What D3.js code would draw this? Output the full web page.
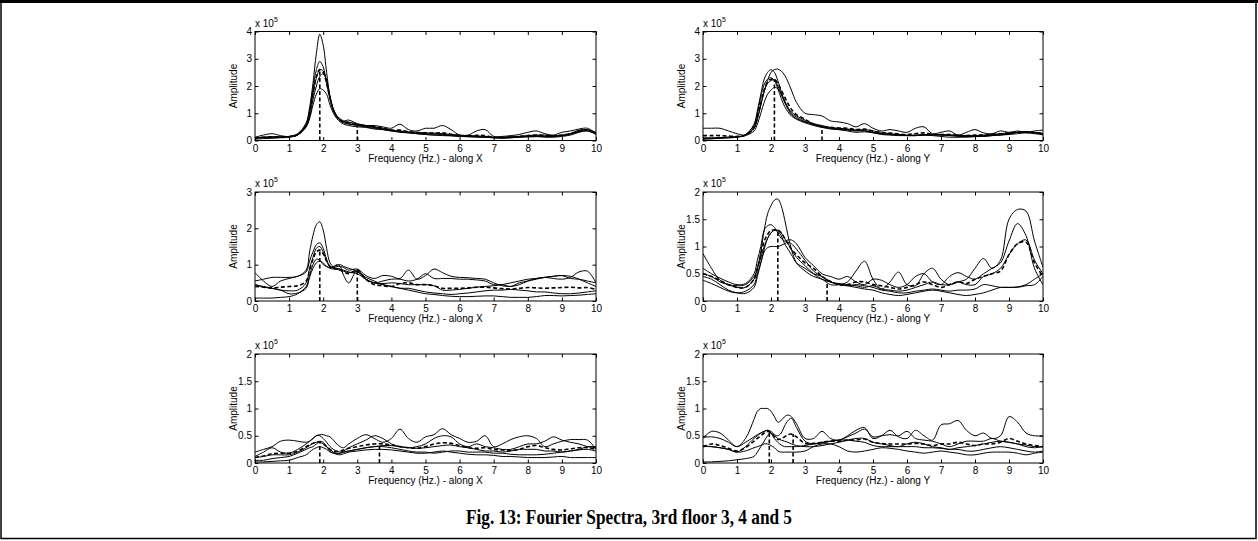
<!DOCTYPE html>
<html>
<head>
<meta charset="utf-8">
<script src="https://cdn.jsdelivr.net/npm/d3@7"></script>
<style>
  body { margin: 0; background: #fff; }
  svg { display: block; }
  .tick text { font-family: "Liberation Sans", Arial, sans-serif; font-size: 10px; fill: #000; }
  .tick line { stroke: #000; }
</style>
</head>
<body>
<svg width="1258" height="541"></svg>
<script>
// frequency grid (Hz) shared by all spectra
var freqs = [0,0.25,0.5,0.75,1,1.25,1.5,
  1.6,1.7,1.8,1.9,2,2.1,2.2,2.3,2.4,2.5,2.6,
  2.75,3,3.25,3.5,3.75,4,
  4.25,4.5,4.75,5,5.25,5.5,5.75,6,6.25,6.5,6.75,7,
  7.25,7.5,7.75,8,8.25,8.5,8.75,9,9.25,9.5,9.75,10];

var xTicks = [0,1,2,3,4,5,6,7,8,9,10];

// amplitudes in units of 1e5
// --- top row, along X
var p1a = [0.10,0.12,0.14,0.13,0.15,0.25,0.65,
  1.2,2.1,3.2,3.9,3.5,2.5,1.6,1.1,0.85,0.75,0.7,
  0.68,0.6,0.55,0.55,0.5,0.45,
  0.6,0.4,0.35,0.45,0.45,0.55,0.4,0.2,0.2,0.35,0.4,0.15,
  0.15,0.18,0.22,0.3,0.35,0.25,0.2,0.3,0.35,0.42,0.45,0.25];
var p1b = [0.08,0.1,0.12,0.12,0.14,0.22,0.6,
  1.1,1.9,2.6,2.9,2.7,2.1,1.5,1.1,0.9,0.8,0.72,
  0.75,0.62,0.55,0.5,0.45,0.38,
  0.35,0.32,0.3,0.28,0.27,0.25,0.22,0.2,0.18,0.17,0.15,0.12,
  0.1,0.1,0.12,0.13,0.14,0.15,0.15,0.18,0.25,0.38,0.4,0.3];
var p1c = [0.12,0.2,0.25,0.18,0.14,0.2,0.55,
  1.0,1.7,2.3,2.6,2.55,2.2,1.6,1.15,0.9,0.75,0.68,
  0.62,0.58,0.55,0.48,0.42,0.38,
  0.33,0.3,0.28,0.25,0.24,0.22,0.2,0.18,0.16,0.15,0.12,0.1,
  0.1,0.12,0.15,0.18,0.2,0.2,0.18,0.2,0.25,0.35,0.38,0.28];
var p1d = [0.05,0.07,0.08,0.1,0.12,0.2,0.5,
  0.85,1.5,2.0,2.35,2.45,2.2,1.6,1.15,0.9,0.72,0.65,
  0.6,0.55,0.5,0.45,0.4,0.35,
  0.32,0.28,0.25,0.22,0.2,0.18,0.17,0.15,0.14,0.12,0.12,0.1,
  0.08,0.1,0.12,0.15,0.15,0.12,0.12,0.15,0.2,0.3,0.35,0.25];
var p1e = [0.1,0.12,0.12,0.13,0.15,0.22,0.5,
  0.8,1.3,1.7,1.9,1.85,1.7,1.3,1.0,0.8,0.68,0.6,
  0.55,0.5,0.48,0.42,0.4,0.35,
  0.3,0.28,0.25,0.22,0.2,0.2,0.18,0.15,0.14,0.14,0.12,0.12,
  0.12,0.14,0.15,0.16,0.18,0.16,0.15,0.18,0.22,0.32,0.35,0.22];
var p1Mean = [0.09,0.12,0.14,0.13,0.14,0.22,0.56,
  1.0,1.7,2.35,2.6,2.5,2.1,1.55,1.1,0.87,0.74,0.67,
  0.65,0.57,0.53,0.5,0.45,0.38,
  0.38,0.32,0.29,0.28,0.27,0.28,0.23,0.18,0.16,0.19,0.18,0.12,
  0.11,0.13,0.15,0.18,0.2,0.18,0.16,0.2,0.25,0.35,0.39,0.26];
var p1Peaks = [[1.9, 2.6], [3.0, 0.57]];

// --- top row, along Y
var p2a = [0.45,0.45,0.45,0.35,0.25,0.2,0.45,
  0.8,1.3,1.8,2.2,2.5,2.6,2.62,2.55,2.4,2.15,1.85,
  1.4,1.0,0.95,0.9,0.72,0.68,
  0.62,0.5,0.62,0.45,0.35,0.4,0.35,0.3,0.45,0.5,0.25,0.3,
  0.35,0.2,0.3,0.4,0.28,0.25,0.35,0.3,0.35,0.3,0.35,0.38];
var p2b = [0.05,0.06,0.08,0.1,0.12,0.2,0.6,
  1.1,1.7,2.25,2.5,2.6,2.5,2.2,1.8,1.45,1.2,1.05,
  0.9,0.75,0.62,0.55,0.48,0.45,
  0.42,0.38,0.35,0.3,0.25,0.22,0.2,0.18,0.18,0.2,0.2,0.22,
  0.2,0.18,0.15,0.15,0.15,0.18,0.2,0.25,0.3,0.32,0.3,0.25];
var p2c = [0.08,0.08,0.1,0.12,0.14,0.2,0.45,
  0.8,1.3,1.8,2.1,2.2,2.22,2.0,1.7,1.4,1.15,0.95,
  0.8,0.68,0.58,0.5,0.45,0.42,
  0.4,0.38,0.4,0.35,0.3,0.25,0.22,0.2,0.2,0.22,0.2,0.2,
  0.2,0.2,0.18,0.18,0.2,0.22,0.25,0.28,0.3,0.32,0.28,0.2];
var p2d = [0.1,0.1,0.1,0.12,0.14,0.18,0.35,
  0.6,1.0,1.4,1.7,1.85,1.95,1.9,1.7,1.45,1.2,1.0,
  0.85,0.7,0.6,0.52,0.45,0.4,
  0.35,0.3,0.32,0.28,0.22,0.2,0.18,0.18,0.18,0.2,0.18,0.15,
  0.12,0.12,0.12,0.14,0.15,0.18,0.2,0.22,0.25,0.28,0.25,0.22];
var p2e = [0.06,0.07,0.09,0.1,0.12,0.22,0.55,
  1.0,1.6,2.05,2.25,2.3,2.2,1.9,1.55,1.25,1.05,0.9,
  0.78,0.65,0.55,0.48,0.42,0.4,
  0.38,0.35,0.36,0.3,0.25,0.22,0.2,0.18,0.18,0.2,0.22,0.2,
  0.18,0.15,0.15,0.16,0.18,0.2,0.22,0.25,0.3,0.3,0.28,0.25];
var p2Mean = [0.18,0.18,0.18,0.16,0.15,0.2,0.48,
  0.86,1.38,1.86,2.15,2.25,2.25,2.1,1.85,1.6,1.35,1.15,
  0.95,0.78,0.6,0.5,0.48,0.46,
  0.45,0.4,0.42,0.35,0.28,0.27,0.24,0.22,0.25,0.28,0.23,0.22,
  0.22,0.18,0.18,0.2,0.2,0.22,0.25,0.27,0.3,0.3,0.29,0.27];
var p2Peaks = [[2.1, 2.25], [3.5, 0.5]];

// --- middle row, along X
var p3a = [0.55,0.6,0.65,0.65,0.65,0.68,0.85,
  1.35,1.8,2.1,2.18,1.95,1.45,1.05,0.95,1.0,0.95,0.7,
  0.5,0.85,0.6,0.5,0.55,0.6,
  0.6,0.55,0.6,0.75,0.62,0.62,0.62,0.6,0.6,0.58,0.55,0.45,
  0.45,0.4,0.5,0.55,0.6,0.65,0.68,0.7,0.62,0.6,0.55,0.5];
var p3b = [0.78,0.55,0.4,0.55,0.62,0.68,0.8,
  1.1,1.35,1.55,1.6,1.45,1.15,0.95,0.92,0.95,0.95,0.92,
  0.85,0.88,0.7,0.62,0.7,0.68,
  0.62,0.85,0.6,0.7,0.88,0.78,0.68,0.65,0.64,0.62,0.6,0.5,
  0.42,0.4,0.45,0.55,0.62,0.65,0.62,0.6,0.65,0.8,0.82,0.5];
var p3c = [0.45,0.4,0.35,0.3,0.28,0.3,0.5,
  0.9,1.2,1.45,1.5,1.35,1.1,0.95,0.95,0.98,1.0,0.95,
  0.9,0.82,0.6,0.5,0.48,0.5,
  0.48,0.45,0.45,0.45,0.42,0.3,0.3,0.32,0.35,0.38,0.4,0.42,
  0.45,0.5,0.55,0.6,0.62,0.65,0.68,0.7,0.68,0.6,0.5,0.4];
var p3d = [0.08,0.08,0.08,0.1,0.12,0.2,0.4,
  0.7,1.0,1.15,1.12,1.0,0.95,0.92,0.92,0.9,0.88,0.85,
  0.8,0.75,0.6,0.5,0.45,0.4,
  0.35,0.3,0.25,0.2,0.18,0.15,0.13,0.12,0.12,0.13,0.14,0.14,
  0.12,0.1,0.1,0.1,0.12,0.15,0.15,0.14,0.15,0.16,0.18,0.2];
var p3e = [0.45,0.38,0.35,0.3,0.2,0.22,0.35,
  0.65,0.9,1.05,1.1,1.05,0.95,0.9,0.88,0.87,0.85,0.82,
  0.78,0.8,0.65,0.55,0.45,0.4,
  0.35,0.35,0.3,0.25,0.22,0.2,0.18,0.2,0.22,0.25,0.28,0.3,
  0.3,0.32,0.3,0.28,0.25,0.25,0.22,0.2,0.2,0.22,0.25,0.28];
var p3Mean = [0.4,0.38,0.36,0.38,0.4,0.42,0.55,
  0.85,1.15,1.35,1.4,1.3,1.1,0.95,0.9,0.88,0.85,0.8,
  0.75,0.85,0.6,0.45,0.42,0.4,
  0.48,0.5,0.45,0.45,0.42,0.35,0.35,0.35,0.36,0.38,0.38,0.36,
  0.34,0.33,0.35,0.37,0.36,0.35,0.36,0.37,0.38,0.36,0.37,0.32];
var p3Peaks = [[1.9, 1.4], [3.0, 0.85]];

// --- middle row, along Y
var p4a = [0.87,0.6,0.38,0.3,0.25,0.25,0.4,
  0.6,0.9,1.3,1.6,1.75,1.85,1.87,1.75,1.5,1.2,0.95,
  0.7,0.55,0.45,0.4,0.3,0.3,
  0.35,0.55,0.73,0.4,0.22,0.35,0.53,0.3,0.28,0.5,0.6,0.4,
  0.3,0.35,0.4,0.6,0.78,0.6,0.75,1.5,1.68,1.65,1.1,0.62];
var p4b = [0.6,0.5,0.42,0.35,0.3,0.32,0.5,
  0.75,1.0,1.3,1.38,1.4,1.35,1.25,1.15,1.1,1.12,1.12,
  1.05,0.8,0.65,0.5,0.45,0.4,
  0.45,0.35,0.3,0.4,0.38,0.3,0.25,0.3,0.45,0.5,0.35,0.3,
  0.45,0.52,0.45,0.4,0.5,0.6,0.7,1.1,1.42,1.2,0.6,0.3];
var p4c = [0.5,0.45,0.35,0.3,0.28,0.3,0.45,
  0.6,0.8,1.0,1.15,1.25,1.3,1.28,1.2,1.05,0.95,0.85,
  0.7,0.6,0.5,0.45,0.35,0.32,
  0.3,0.28,0.25,0.28,0.22,0.2,0.18,0.2,0.25,0.3,0.35,0.3,
  0.3,0.35,0.3,0.3,0.45,0.5,0.6,0.85,1.05,1.12,0.75,0.5];
var p4d = [0.38,0.32,0.25,0.18,0.15,0.18,0.3,
  0.5,0.7,0.9,0.98,1.0,1.0,1.0,1.02,1.05,1.08,1.05,
  0.95,0.75,0.55,0.45,0.35,0.3,
  0.28,0.25,0.22,0.2,0.15,0.12,0.1,0.12,0.15,0.18,0.2,0.18,
  0.15,0.12,0.1,0.12,0.15,0.2,0.25,0.25,0.25,0.28,0.3,0.45];
var p4e = [0.45,0.4,0.3,0.2,0.15,0.14,0.25,
  0.45,0.7,0.95,1.15,1.25,1.3,1.3,1.25,1.15,1.05,0.95,
  0.8,0.65,0.5,0.4,0.35,0.3,
  0.28,0.3,0.28,0.25,0.2,0.18,0.15,0.15,0.18,0.2,0.22,0.2,
  0.18,0.2,0.2,0.22,0.3,0.28,0.25,0.25,0.26,0.3,0.4,0.5];
var p4Mean = [0.5,0.45,0.38,0.3,0.25,0.25,0.4,
  0.6,0.85,1.1,1.22,1.3,1.3,1.3,1.25,1.15,1.05,0.95,
  0.85,0.7,0.6,0.45,0.36,0.3,
  0.3,0.35,0.35,0.3,0.28,0.25,0.22,0.25,0.3,0.35,0.3,0.25,
  0.3,0.35,0.32,0.4,0.45,0.5,0.55,0.85,1.05,1.08,0.7,0.45];
var p4Peaks = [[2.2, 1.3], [3.65, 0.4]];

// --- bottom row, along X
var p5a = [0.2,0.25,0.3,0.4,0.42,0.4,0.38,
  0.4,0.45,0.5,0.52,0.52,0.5,0.48,0.42,0.35,0.3,0.28,
  0.35,0.45,0.52,0.45,0.38,0.45,
  0.62,0.45,0.38,0.48,0.52,0.63,0.52,0.45,0.38,0.4,0.5,0.3,
  0.35,0.43,0.48,0.5,0.45,0.3,0.35,0.4,0.43,0.43,0.42,0.25];
var p5b = [0.12,0.2,0.28,0.2,0.18,0.25,0.35,
  0.4,0.45,0.5,0.5,0.45,0.38,0.3,0.25,0.22,0.2,0.22,
  0.28,0.35,0.42,0.5,0.45,0.35,
  0.3,0.28,0.3,0.35,0.45,0.5,0.48,0.35,0.3,0.35,0.3,0.28,
  0.25,0.25,0.3,0.35,0.35,0.4,0.48,0.42,0.38,0.35,0.3,0.28];
var p5c = [0.05,0.05,0.08,0.1,0.12,0.18,0.25,
  0.28,0.3,0.35,0.38,0.35,0.3,0.25,0.2,0.18,0.18,0.2,
  0.22,0.25,0.28,0.3,0.32,0.32,
  0.3,0.28,0.27,0.28,0.3,0.32,0.33,0.3,0.28,0.25,0.22,0.22,
  0.2,0.22,0.25,0.25,0.25,0.22,0.22,0.2,0.22,0.25,0.3,0.3];
var p5d = [0.02,0.02,0.03,0.04,0.05,0.1,0.15,
  0.2,0.25,0.28,0.3,0.28,0.25,0.2,0.18,0.16,0.15,0.17,
  0.2,0.22,0.24,0.25,0.25,0.24,
  0.22,0.2,0.18,0.18,0.2,0.22,0.2,0.18,0.16,0.15,0.15,0.14,
  0.12,0.12,0.11,0.1,0.1,0.1,0.11,0.12,0.1,0.1,0.1,0.1];
var p5e = [0.1,0.12,0.15,0.15,0.15,0.2,0.28,
  0.32,0.36,0.38,0.4,0.38,0.3,0.22,0.18,0.17,0.18,0.2,
  0.22,0.25,0.28,0.3,0.3,0.28,
  0.25,0.22,0.2,0.2,0.18,0.2,0.22,0.22,0.2,0.2,0.2,0.18,
  0.18,0.16,0.15,0.15,0.15,0.16,0.18,0.2,0.22,0.24,0.25,0.22];
var p5Mean = [0.1,0.13,0.17,0.18,0.18,0.22,0.3,
  0.33,0.36,0.38,0.38,0.35,0.3,0.25,0.22,0.21,0.22,0.24,
  0.27,0.3,0.33,0.35,0.35,0.33,
  0.3,0.28,0.27,0.3,0.35,0.37,0.36,0.32,0.28,0.27,0.28,0.25,
  0.24,0.23,0.25,0.3,0.32,0.28,0.25,0.24,0.26,0.28,0.28,0.25];
var p5Peaks = [[1.9, 0.38], [3.65, 0.35]];

// --- bottom row, along Y
var p6a = [0.45,0.58,0.55,0.42,0.3,0.45,0.8,
  0.95,1.0,1.0,1.0,0.95,0.85,0.75,0.78,0.85,0.88,0.85,
  0.72,0.45,0.45,0.58,0.45,0.42,
  0.5,0.6,0.65,0.45,0.5,0.6,0.48,0.45,0.6,0.5,0.42,0.7,
  0.72,0.78,0.6,0.5,0.55,0.45,0.5,0.85,0.75,0.55,0.5,0.5];
var p6b = [0.47,0.48,0.45,0.38,0.3,0.38,0.48,
  0.52,0.55,0.58,0.6,0.58,0.52,0.5,0.55,0.68,0.78,0.82,
  0.65,0.4,0.35,0.37,0.4,0.42,
  0.48,0.55,0.62,0.48,0.5,0.52,0.5,0.58,0.45,0.42,0.4,0.35,
  0.3,0.35,0.4,0.4,0.4,0.45,0.4,0.38,0.35,0.33,0.3,0.3];
var p6c = [0.32,0.3,0.28,0.25,0.2,0.3,0.45,
  0.5,0.55,0.58,0.6,0.55,0.45,0.38,0.33,0.3,0.3,0.3,
  0.3,0.32,0.35,0.38,0.4,0.42,
  0.42,0.4,0.38,0.32,0.3,0.3,0.3,0.3,0.3,0.28,0.28,0.27,
  0.25,0.25,0.22,0.22,0.25,0.28,0.3,0.28,0.25,0.22,0.2,0.22];
var p6d = [0.3,0.3,0.28,0.25,0.2,0.22,0.28,
  0.3,0.32,0.35,0.35,0.32,0.28,0.22,0.2,0.2,0.2,0.2,
  0.2,0.22,0.3,0.35,0.35,0.3,
  0.22,0.2,0.22,0.25,0.28,0.27,0.25,0.22,0.2,0.18,0.2,0.22,
  0.2,0.18,0.15,0.15,0.18,0.2,0.2,0.2,0.18,0.15,0.18,0.2];
var p6e = [0.02,0.02,0.03,0.04,0.06,0.08,0.12,
  0.2,0.3,0.4,0.5,0.55,0.5,0.45,0.42,0.4,0.38,0.35,
  0.32,0.3,0.3,0.32,0.35,0.38,
  0.42,0.45,0.45,0.38,0.35,0.32,0.3,0.35,0.38,0.35,0.3,0.28,
  0.25,0.28,0.3,0.32,0.35,0.38,0.4,0.38,0.35,0.3,0.28,0.3];
var p6Mean = [0.3,0.35,0.32,0.27,0.22,0.28,0.4,
  0.45,0.5,0.55,0.58,0.55,0.48,0.43,0.45,0.48,0.52,0.53,
  0.48,0.36,0.36,0.38,0.4,0.4,
  0.42,0.42,0.44,0.38,0.36,0.35,0.35,0.35,0.36,0.35,0.32,0.35,
  0.35,0.38,0.35,0.32,0.35,0.35,0.38,0.45,0.4,0.35,0.32,0.3];
var p6Peaks = [[1.95, 0.58], [2.65, 0.53]];

var panels = [
  {col: 0, row: 0, ymax: 4, yTicks: [0,1,2,3,4], axis: "X", runs: [p1a,p1b,p1c,p1d,p1e], mean: p1Mean, peaks: p1Peaks},
  {col: 1, row: 0, ymax: 4, yTicks: [0,1,2,3,4], axis: "Y", runs: [p2a,p2b,p2c,p2d,p2e], mean: p2Mean, peaks: p2Peaks},
  {col: 0, row: 1, ymax: 3, yTicks: [0,1,2,3], axis: "X", runs: [p3a,p3b,p3c,p3d,p3e], mean: p3Mean, peaks: p3Peaks},
  {col: 1, row: 1, ymax: 2, yTicks: [0,0.5,1,1.5,2], axis: "Y", runs: [p4a,p4b,p4c,p4d,p4e], mean: p4Mean, peaks: p4Peaks},
  {col: 0, row: 2, ymax: 2, yTicks: [0,0.5,1,1.5,2], axis: "X", runs: [p5a,p5b,p5c,p5d,p5e], mean: p5Mean, peaks: p5Peaks},
  {col: 1, row: 2, ymax: 2, yTicks: [0,0.5,1,1.5,2], axis: "Y", runs: [p6a,p6b,p6c,p6d,p6e], mean: p6Mean, peaks: p6Peaks}
];

var svg = d3.select("svg");
var font = "'Liberation Sans', Arial, sans-serif";

// page frame
svg.append("rect")
  .attr("x", 1).attr("y", 1.5).attr("width", 1255).attr("height", 537)
  .attr("fill", "none").attr("stroke", "#000").attr("stroke-width", 1.5);
svg.append("line")
  .attr("x1", 0).attr("x2", 1258).attr("y1", 1.5).attr("y2", 1.5)
  .attr("stroke", "#000").attr("stroke-width", 3);

var colX = [255, 703], colW = [341, 340];
var rowY = [31.5, 192, 354];
var plotH = 109;

panels.forEach(function(p, i) {
  var x0 = colX[p.col], w = colW[p.col], y0 = rowY[p.row];

  var x = d3.scaleLinear().domain([0, 10]).range([x0, x0 + w]);
  var y = d3.scaleLinear().domain([0, p.ymax]).range([y0 + plotH, y0]);

  var g = svg.append("g");

  g.append("clipPath").attr("id", "clip" + i)
    .append("rect").attr("x", x0).attr("y", y0).attr("width", w).attr("height", plotH);

  var line = d3.line()
    .x(function(d, j) { return x(freqs[j]); })
    .y(function(d) { return y(d); })
    .curve(d3.curveCatmullRom.alpha(0.5));

  var plot = g.append("g").attr("clip-path", "url(#clip" + i + ")");

  plot.selectAll("path.run")
    .data(p.runs)
    .enter()
    .append("path")
    .attr("class", "run")
    .attr("d", line)
    .attr("fill", "none")
    .attr("stroke", "#000")
    .attr("stroke-width", 1);

  plot.append("path")
    .attr("d", line(p.mean))
    .attr("fill", "none")
    .attr("stroke", "#000")
    .attr("stroke-width", 1.6)
    .attr("stroke-dasharray", "4,2.5");

  plot.selectAll("line.peak")
    .data(p.peaks)
    .enter()
    .append("line")
    .attr("class", "peak")
    .attr("x1", function(d) { return x(d[0]); })
    .attr("x2", function(d) { return x(d[0]); })
    .attr("y1", y(0))
    .attr("y2", function(d) { return y(d[1]); })
    .attr("stroke", "#000")
    .attr("stroke-width", 1.6)
    .attr("stroke-dasharray", "4,2.5");

  // axes, MATLAB style: ticks pointing inward on all four sides
  g.append("g")
    .attr("transform", "translate(0," + (y0 + plotH) + ")")
    .call(d3.axisBottom(x).tickValues(xTicks).tickSize(-3.5).tickPadding(4));
  g.append("g")
    .attr("transform", "translate(0," + y0 + ")")
    .call(d3.axisTop(x).tickValues(xTicks).tickSize(-3.5).tickFormat(""));
  g.append("g")
    .attr("transform", "translate(" + x0 + ",0)")
    .call(d3.axisLeft(y).tickValues(p.yTicks).tickSize(-3.5).tickPadding(3).tickFormat(d3.format("")));
  g.append("g")
    .attr("transform", "translate(" + (x0 + w) + ",0)")
    .call(d3.axisRight(y).tickValues(p.yTicks).tickSize(-3.5).tickFormat(""));
  g.selectAll(".domain").remove();

  g.append("rect")
    .attr("x", x0).attr("y", y0).attr("width", w).attr("height", plotH)
    .attr("fill", "none").attr("stroke", "#000").attr("stroke-width", 1);

  // exponent marker
  var ex = g.append("text")
    .attr("x", x0).attr("y", y0 - 5)
    .attr("font-family", font).attr("font-size", 10);
  ex.append("tspan").text("x 10");
  ex.append("tspan").attr("dy", -5).attr("font-size", 7).text("5");

  g.append("text")
    .attr("transform", "translate(" + (x0 - 18) + "," + (y0 + plotH / 2) + ") rotate(-90)")
    .attr("text-anchor", "middle")
    .attr("font-family", font).attr("font-size", 10)
    .text("Amplitude");

  g.append("text")
    .attr("x", x0 + w / 2).attr("y", y0 + plotH + 21)
    .attr("text-anchor", "middle")
    .attr("font-family", font).attr("font-size", 10)
    .text("Frequency (Hz.) - along " + p.axis);
});

svg.append("text")
  .attr("x", 629).attr("y", 524)
  .attr("text-anchor", "middle")
  .attr("font-family", "'Liberation Serif', 'Times New Roman', serif")
  .attr("font-weight", "bold")
  .attr("font-size", 21)
  .attr("textLength", 326)
  .attr("lengthAdjust", "spacingAndGlyphs")
  .text("Fig. 13: Fourier Spectra, 3rd floor 3, 4 and 5");
</script>
</body>
</html>
